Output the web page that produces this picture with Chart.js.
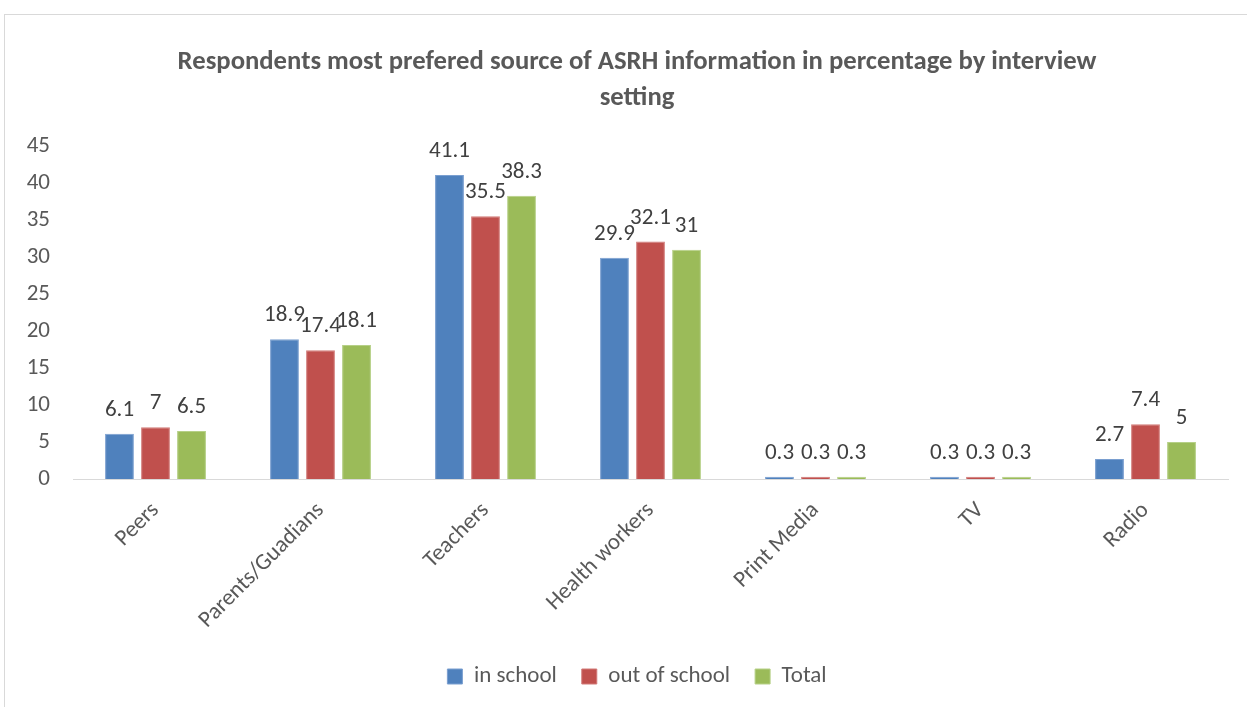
<!DOCTYPE html>
<html>
<head>
<meta charset="utf-8">
<script src="https://cdn.jsdelivr.net/npm/chart.js@4.4.1/dist/chart.umd.min.js"></script>
<style>
  html, body { margin: 0; padding: 0; background: #fff; }
  #wrap { position: relative; width: 1247px; height: 707px; overflow: hidden; }
  #frame {
    position: absolute; left: 4px; top: 14px; width: 1300px; height: 800px;
    border: 1px solid #d9d9d9; box-sizing: border-box;
  }
  /* the chart frame runs past the right edge of the picture, so the box is wider */
  #chartBox { position: absolute; left: 0; top: 0; width: 1274px; height: 707px; }
</style>
</head>
<body>
<div id="wrap">
  <div id="frame"></div>
  <div id="chartBox"><canvas id="c"></canvas></div>
</div>
<script>
// ---------- DATA ----------
const categories = ["Peers", "Parents/Guadians", "Teachers", "Health workers", "Print Media", "TV", "Radio"];
const inSchool   = [6.1, 18.9, 41.1, 29.9, 0.3, 0.3, 2.7];
const outSchool  = [7, 17.4, 35.5, 32.1, 0.3, 0.3, 7.4];
const total      = [6.5, 18.1, 38.3, 31, 0.3, 0.3, 5];
const seriesNames = ["in school", "out of school", "Total"];
const titleLines = ["Respondents most prefered source of ASRH information in percentage by interview", "setting"];

const FONT = "Carlito, Lato, 'Open Sans', sans-serif";
const TXT = 23;
const colors = ["#4F81BD", "#C0504D", "#9BBB59"];
const edges  = ["#7a9fd0", "#d27a78", "#b6d087"];

// ---------- DATA LABELS ----------
const valueLabels = {
  id: "valueLabels",
  afterDatasetsDraw(chart) {
    const ctx = chart.ctx;
    ctx.save();
    ctx.font = `${TXT}px ${FONT}`;
    ctx.fillStyle = "#404040";
    ctx.textAlign = "center";
    ctx.textBaseline = "alphabetic";
    chart.data.datasets.forEach((ds, i) => {
      const meta = chart.getDatasetMeta(i);
      meta.data.forEach((bar, j) => {
        ctx.fillText(String(ds.data[j]), bar.x, bar.y - 18);
      });
    });
    ctx.restore();
  }
};

const dsList = [inSchool, outSchool, total].map((d, i) => ({
  label: seriesNames[i],
  data: d,
  backgroundColor: colors[i],
  borderColor: edges[i],
  borderWidth: 1,
  categoryPercentage: 0.655,
  barPercentage: 0.8,
}));

new Chart(document.getElementById("c"), {
  type: "bar",
  data: { labels: categories, datasets: dsList },
  plugins: [valueLabels],
  options: {
    responsive: true,
    maintainAspectRatio: false,
    animation: false,
    layout: { padding: { left: 0, right: 0, top: 44, bottom: 9 } },
    plugins: {
      title: {
        display: true,
        text: titleLines,
        color: "#595959",
        font: { family: FONT, size: 26.7, weight: "bold", lineHeight: 1.35 },
        padding: { top: 0, bottom: 30 },
      },
      legend: {
        position: "bottom",
        labels: {
          color: "#595959",
          font: { family: FONT, size: TXT },
          boxWidth: 15,
          boxHeight: 15,
          padding: 25,
        },
      },
      tooltip: { enabled: false },
    },
    scales: {
      x: {
        grid: { display: false, drawTicks: false },
        border: { color: "#d9d9d9", width: 1 },
        ticks: {
          color: "#595959",
          font: { family: FONT, size: TXT },
          minRotation: 45,
          maxRotation: 45,
          padding: 18,
        },
        afterFit(scale) { scale.height = 161; },
      },
      y: {
        min: 0,
        max: 45,
        grid: { display: false, drawTicks: false },
        border: { display: false },
        ticks: {
          stepSize: 5,
          color: "#595959",
          font: { family: FONT, size: TXT },
          padding: 23,
        },
        afterFit(scale) { scale.width = 73; },
      },
      // empty spacer on the right so title and legend centre on the full frame
      spacer: {
        position: "right",
        grid: { display: false, drawTicks: false },
        border: { display: false },
        ticks: { display: false },
        afterFit(scale) { scale.width = 46; },
      },
    },
  },
});
</script>
</body>
</html>
